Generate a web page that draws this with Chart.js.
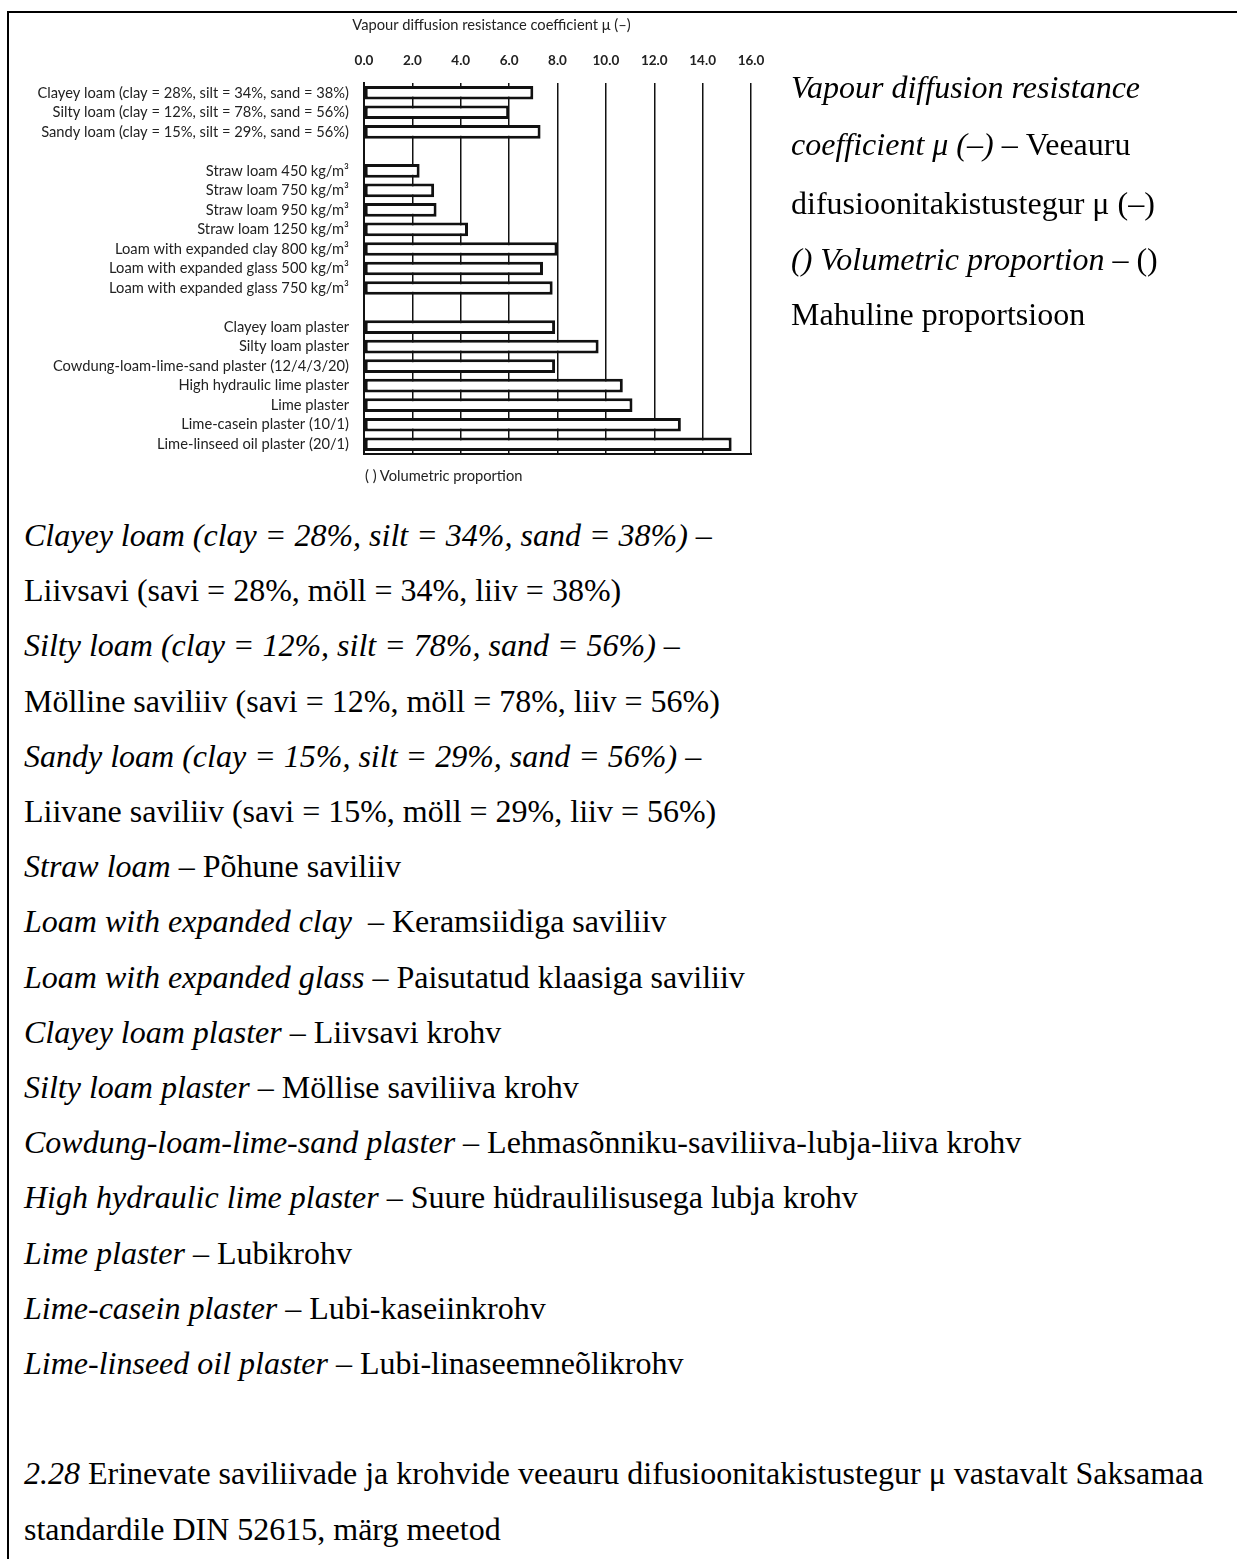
<!DOCTYPE html>
<html>
<head>
<meta charset="utf-8">
<script src="https://cdn.jsdelivr.net/npm/chart.js@4.4.1/dist/chart.umd.min.js"></script>
<style>
  body { margin: 0; background: #fff; width: 1237px; height: 1559px; overflow: hidden; position: relative;
         font-family: 'Liberation Serif', 'Times New Roman', serif; color: #000; }
  .frame { position: absolute; left: 7px; top: 11px; width: 1300px; height: 1600px;
           border-top: 2px solid #000; border-left: 2px solid #000; }
  #mu { position: absolute; left: 0; top: 0; }
  .note { position: absolute; left: 365px; top: 466px; color: #222; white-space: nowrap;
          font: 14.7px Lato, 'Open Sans', sans-serif; }
  .side, .gloss { position: absolute; font-size: 32px; line-height: 55.2px; white-space: nowrap; }
  .side { left: 791px; }
  .gloss { left: 24px; top: 508px; }
</style>
</head>
<body>
<div class="frame"></div>
<canvas id="mu" width="983" height="470"></canvas>
<div class="note">( ) Volumetric proportion</div>

<div class="side" style="top:60px"><i>Vapour diffusion resistance</i></div>
<div class="side" style="top:117px"><i>coefficient μ (–)</i> – Veeauru</div>
<div class="side" style="top:176px">difusioonitakistustegur μ (–)</div>
<div class="side" style="top:232px"><i>() Volumetric proportion</i> – ()</div>
<div class="side" style="top:287px">Mahuline proportsioon</div>

<div class="gloss">
<i>Clayey loam (clay = 28%, silt = 34%, sand = 38%) –</i><br>
Liivsavi (savi = 28%, möll = 34%, liiv = 38%)<br>
<i>Silty loam (clay = 12%, silt = 78%, sand = 56%) –</i><br>
Mölline saviliiv (savi = 12%, möll = 78%, liiv = 56%)<br>
<i>Sandy loam (clay = 15%, silt = 29%, sand = 56%) –</i><br>
Liivane saviliiv (savi = 15%, möll = 29%, liiv = 56%)<br>
<i>Straw loam</i> – Põhune saviliiv<br>
<i>Loam with expanded clay</i> &nbsp;– Keramsiidiga saviliiv<br>
<i>Loam with expanded glass</i> – Paisutatud klaasiga saviliiv<br>
<i>Clayey loam plaster</i> – Liivsavi krohv<br>
<i>Silty loam plaster</i> – Möllise saviliiva krohv<br>
<i>Cowdung-loam-lime-sand plaster</i> – Lehmasõnniku-saviliiva-lubja-liiva krohv<br>
<i>High hydraulic lime plaster</i> – Suure hüdraulilisusega lubja krohv<br>
<i>Lime plaster</i> – Lubikrohv<br>
<i>Lime-casein plaster</i> – Lubi-kaseiinkrohv<br>
<i>Lime-linseed oil plaster</i> – Lubi-linaseemneõlikrohv<br>
<br>
<i>2.28</i> Erinevate saviliivade ja krohvide veeauru difusioonitakistustegur μ vastavalt Saksamaa<br>
standardile DIN 52615, märg meetod
</div>

<script>
// vapour diffusion resistance coefficient mu (-), three groups of materials
const loamLabels = [
  'Clayey loam (clay = 28%, silt = 34%, sand = 38%)',
  'Silty loam (clay = 12%, silt = 78%, sand = 56%)',
  'Sandy loam (clay = 15%, silt = 29%, sand = 56%)'
];
const loamMu = [7.0, 6.0, 7.3];

const lightLoamLabels = [
  'Straw loam 450 kg/m³',
  'Straw loam 750 kg/m³',
  'Straw loam 950 kg/m³',
  'Straw loam 1250 kg/m³',
  'Loam with expanded clay 800 kg/m³',
  'Loam with expanded glass 500 kg/m³',
  'Loam with expanded glass 750 kg/m³'
];
const lightLoamMu = [2.3, 2.9, 3.0, 4.3, 8.0, 7.4, 7.8];

const plasterLabels = [
  'Clayey loam plaster',
  'Silty loam plaster',
  'Cowdung-loam-lime-sand plaster (12/4/3/20)',
  'High hydraulic lime plaster',
  'Lime plaster',
  'Lime-casein plaster (10/1)',
  'Lime-linseed oil plaster (20/1)'
];
const plasterMu = [7.9, 9.7, 7.9, 10.7, 11.1, 13.1, 15.2];

const muMin = 0, muMax = 16, muStep = 2;

// an empty row between the groups
const labels = [...loamLabels, '', ...lightLoamLabels, '', ...plasterLabels];
const values = [...loamMu, null, ...lightLoamMu, null, ...plasterMu];

const sans = "Lato, 'Open Sans', sans-serif";
const ink = '#222';

// plot runs from x = 364 to x = 751; an empty right axis fills the rest,
// so the full-width title stays centred over the whole canvas
const plotLeft = 364, plotRight = 751;

new Chart(document.getElementById('mu'), {
  type: 'bar',
  data: {
    labels: labels,
    datasets: [{
      data: values,
      xAxisID: 'x',
      yAxisID: 'y',
      backgroundColor: '#fff',
      borderColor: '#111',
      borderWidth: 3,
      borderSkipped: false,
      barPercentage: 0.7,
      categoryPercentage: 1
    }]
  },
  options: {
    indexAxis: 'y',
    responsive: false,
    animation: false,
    devicePixelRatio: 1,
    layout: { padding: { left: 0, right: 0, top: 0, bottom: 16 } },
    plugins: {
      legend: { display: false },
      tooltip: { enabled: false },
      title: {
        display: true,
        text: 'Vapour diffusion resistance coefficient μ (–)',
        color: ink,
        font: { family: sans, size: 14.7, weight: 'normal', lineHeight: 1.2 },
        padding: { top: 16, bottom: 10 }
      }
    },
    scales: {
      x: {
        position: 'top',
        min: muMin,
        max: muMax,
        ticks: {
          stepSize: muStep,
          padding: 14,
          color: ink,
          font: { family: sans, size: 13.5, weight: 'bold' },
          callback: v => v.toFixed(1)
        },
        grid: { color: '#111', lineWidth: 1.5, drawTicks: false },
        border: { display: false },
        afterFit: s => { s.height = 83 - (16 + 10 + 14.7 * 1.2); }
      },
      x2: {
        type: 'linear',
        position: 'bottom',
        min: muMin,
        max: muMax,
        ticks: { display: false },
        grid: { display: false, drawTicks: false },
        border: { display: true, color: '#111', width: 2 },
        afterFit: s => { s.height = 0; }
      },
      y: {
        position: 'left',
        grid: { display: false, drawTicks: false },
        border: { display: true, color: '#111', width: 2 },
        ticks: {
          autoSkip: false,
          padding: 15,
          color: ink,
          font: { family: sans, size: 14.7 }
        },
        afterFit: s => {
          s.width = plotLeft;
          s.paddingTop = 0;
          s.paddingBottom = 0;
        }
      },
      yRight: {
        type: 'linear',
        position: 'right',
        ticks: { display: false },
        grid: { display: false, drawTicks: false },
        border: { display: false },
        afterFit: s => { s.width = 983 - plotRight; }
      }
    }
  }
});
</script>
</body>
</html>
